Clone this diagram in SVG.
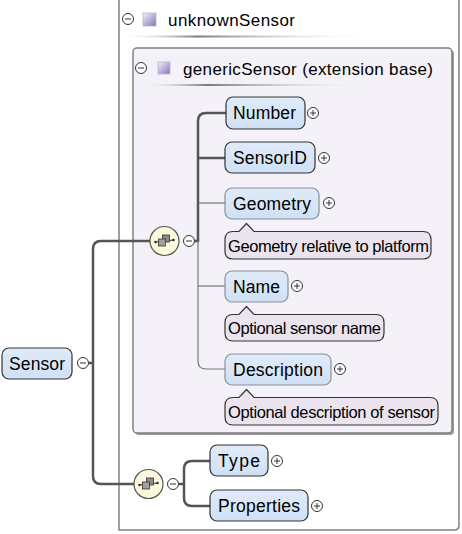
<svg xmlns="http://www.w3.org/2000/svg" width="462" height="534" viewBox="0 0 462 534">
<style>
text{font-family:"Liberation Sans",Arial,sans-serif;fill:#000}
.el{fill:url(#elg);stroke:#333;stroke-width:1.2}
.opt{stroke:#8a8f9a}
.nm{font-size:17.5px}
.hd{font-size:17px}
.an{fill:#ebe4ef;stroke:#333;stroke-width:1.2}
.at{font-size:16.5px}
.pm circle{fill:#fff;stroke:#333;stroke-width:1}
.pm line{stroke:#333;stroke-width:1}
.thk{fill:none;stroke:#555;stroke-width:2.5}
.thn{fill:none;stroke:#777;stroke-width:1.2}
.cmp{fill:#fbf8dc;stroke:#555;stroke-width:1.2}
</style>
<defs>
<linearGradient id="elg" x1="0" y1="0" x2="0" y2="1"><stop offset="0" stop-color="#e0ebf9"/><stop offset="1" stop-color="#cfe0f5"/></linearGradient>
<linearGradient id="sq" x1="0" y1="0" x2="1" y2="1"><stop offset="0" stop-color="#f4f2fa"/><stop offset="1" stop-color="#8474b8"/></linearGradient>
<linearGradient id="sep" x1="0" y1="0" x2="1" y2="0"><stop offset="0" stop-color="#fff" stop-opacity="0"/><stop offset="0.3" stop-color="#7a7a7a"/><stop offset="1" stop-color="#fff" stop-opacity="0"/></linearGradient>
<g id="plus" class="pm"><circle r="5.5"/><line x1="-3" y1="0" x2="3" y2="0"/><line x1="0" y1="-3" x2="0" y2="3"/></g>
<g id="minus" class="pm"><circle r="5.5"/><line x1="-3" y1="0" x2="3" y2="0"/></g>
<g id="seqicon">
<line x1="-9" y1="1" x2="9" y2="-1" stroke="#333" stroke-width="1"/>
<circle cx="-9" cy="1" r="1.3" fill="#333"/><circle cx="9" cy="-1" r="1.3" fill="#333"/>
<rect x="-2" y="-6" width="7" height="7" fill="#8a8a8a" stroke="#333" stroke-width="0.8"/>
<rect x="-6" y="-2" width="7" height="7" fill="#a0a0a0" stroke="#333" stroke-width="0.8"/>
</g>
</defs>

<g id="unknownSensor">
<path d="M119,-5 V530 H454 Q459,530 459,525 V-5" fill="#fff" stroke="#808080" stroke-width="1.5"/>
<use href="#minus" x="128" y="19"/>
<rect x="143" y="13" width="13" height="13" fill="url(#sq)" stroke="#b8b0d8" stroke-width="0.8"/>
<text class="hd" x="168" y="26" textLength="127">unknownSensor</text>
<rect x="120" y="35.5" width="255" height="2" fill="url(#sep)"/>
</g>

<g id="genericSensor">
<rect x="135" y="50" width="319" height="385" rx="4" fill="#9a9a9a"/>
<rect x="133" y="48" width="319" height="385" rx="4" fill="#f4f2f8" stroke="#808080" stroke-width="1.5"/>
<use href="#minus" x="141" y="68"/>
<rect x="158" y="62" width="12" height="12" fill="url(#sq)" stroke="#b8b0d8" stroke-width="0.8"/>
<text class="hd" x="183" y="75" textLength="250">genericSensor (extension base)</text>
<rect x="135" y="84" width="240" height="2" fill="url(#sep)"/>
</g>

<g id="connectors">
<path class="thk" d="M89,363 H93"/>
<path class="thk" d="M150,241 H101 Q93,241 93,249 V476 Q93,484 101,484 H134"/>
<path class="thk" d="M194.5,241 H198 V121 Q198,113 206,113 H226"/>
<path class="thk" d="M198,158 H225"/>
<path class="thn" d="M198,241 V361 Q198,369 206,369 H225"/>
<path class="thn" d="M198,203 H225"/>
<path class="thn" d="M198,286 H225"/>
<path class="thk" d="M178.5,484 H184"/>
<path class="thk" d="M210,461 H192 Q184,461 184,469 V498 Q184,506 192,506 H210"/>
</g>

<g id="seq1">
<circle class="cmp" cx="164.5" cy="241" r="14.5"/>
<use href="#seqicon" x="164.5" y="241"/>
<use href="#minus" x="189" y="241"/>
</g>

<g id="seq2">
<circle class="cmp" cx="148.5" cy="484" r="14.5"/>
<use href="#seqicon" x="148.5" y="484"/>
<use href="#minus" x="173" y="484"/>
</g>

<g id="Sensor">
<rect class="el" x="2" y="348" width="70" height="31" rx="7"/>
<text class="nm" x="9" y="370" textLength="56">Sensor</text>
<use href="#minus" x="83" y="363"/>
</g>

<g id="Number">
<rect class="el" x="226" y="97" width="79" height="32" rx="7"/>
<text class="nm" x="233" y="119" textLength="63">Number</text>
<use href="#plus" x="313" y="113"/>
</g>

<g id="SensorID">
<rect class="el" x="225" y="142" width="90" height="31" rx="7"/>
<text class="nm" x="233" y="164" textLength="74">SensorID</text>
<use href="#plus" x="324" y="158"/>
</g>

<g id="Geometry">
<rect class="el opt" x="225" y="188" width="94" height="31" rx="7"/>
<text class="nm" x="233" y="210" textLength="78">Geometry</text>
<use href="#plus" x="329" y="203"/>
<path class="an" d="M233,231.5 H239 L246.5,223.5 L254,231.5 H423 Q431,231.5 431,239.5 V251 Q431,259 423,259 H233 Q225,259 225,251 V239.5 Q225,231.5 233,231.5 Z"/>
<text class="at" x="228" y="251.5" textLength="201">Geometry relative to platform</text>
</g>

<g id="Name">
<rect class="el opt" x="225" y="271" width="63" height="31" rx="7"/>
<text class="nm" x="233" y="293" textLength="47">Name</text>
<use href="#plus" x="297" y="286"/>
<path class="an" d="M233,314.5 H239 L246.5,306.5 L254,314.5 H376 Q384,314.5 384,322.5 V333 Q384,341 376,341 H233 Q225,341 225,333 V322.5 Q225,314.5 233,314.5 Z"/>
<text class="at" x="228" y="333.5" textLength="153">Optional sensor name</text>
</g>

<g id="Description">
<rect class="el opt" x="225" y="354" width="106" height="31" rx="7"/>
<text class="nm" x="233" y="376" textLength="90">Description</text>
<use href="#plus" x="340" y="369"/>
<path class="an" d="M233,397.5 H239 L246.5,389.5 L254,397.5 H430 Q438,397.5 438,405.5 V417 Q438,425 430,425 H233 Q225,425 225,417 V405.5 Q225,397.5 233,397.5 Z"/>
<text class="at" x="228" y="417.5" textLength="207">Optional description of sensor</text>
</g>

<g id="Type">
<rect class="el" x="210" y="445" width="58" height="31" rx="7"/>
<text class="nm" x="218" y="467" textLength="42">Type</text>
<use href="#plus" x="277" y="461"/>
</g>

<g id="Properties">
<rect class="el" x="210" y="490" width="98" height="31" rx="7"/>
<text class="nm" x="218" y="512" textLength="82">Properties</text>
<use href="#plus" x="317" y="506"/>
</g>
</svg>
